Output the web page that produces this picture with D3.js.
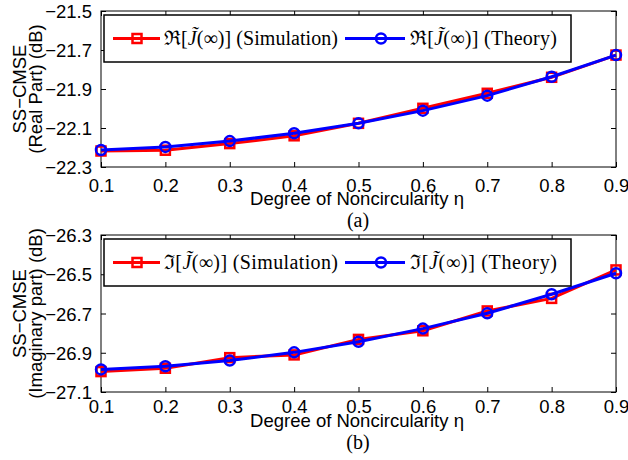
<!DOCTYPE html>
<html>
<head>
<meta charset="utf-8">
<script src="https://cdn.jsdelivr.net/npm/d3@7"></script>
<style>
body{margin:0;background:#fff;}
svg{display:block;}
.tick text{font-family:"Liberation Sans",Arial,sans-serif;font-size:18.5px;fill:#000;}
.lab{font-family:"Liberation Sans",Arial,sans-serif;font-size:18.5px;fill:#000;}
.ser{font-family:"Liberation Serif","Times New Roman",serif;font-size:20px;fill:#000;}
</style>
</head>
<body>
<svg id="chart" width="628" height="460"></svg>
<script>
var eta = [0.1,0.2,0.3,0.4,0.5,0.6,0.7,0.8,0.9];
var realSim = [-22.218,-22.214,-22.180,-22.140,-22.076,-21.999,-21.922,-21.840,-21.726];
var realThe = [-22.213,-22.197,-22.167,-22.127,-22.076,-22.011,-21.934,-21.837,-21.726];
var imagSim = [-26.996,-26.979,-26.925,-26.911,-26.832,-26.788,-26.687,-26.623,-26.478];
var imagThe = [-26.985,-26.969,-26.940,-26.898,-26.844,-26.777,-26.699,-26.602,-26.495];
var xTicks = [0.1,0.2,0.3,0.4,0.5,0.6,0.7,0.8,0.9];
var realTicks = [-21.5,-21.7,-21.9,-22.1,-22.3];
var imagTicks = [-26.3,-26.5,-26.7,-26.9,-27.1];

var svg = d3.select("#chart");
var L = 101, R = 616;

function panel(top, bottom, domain, ticks, sim, the, sym, ylab2, cap, tickY, labY, capY){
	var x = d3.scaleLinear().domain([0.1,0.9]).range([L,R]);
	var y = d3.scaleLinear().domain(domain).range([bottom,top]);
	var g = svg.append("g");
	var fmt = function(d){ return d3.format(".1f")(d).replace("-","\u2212"); };

	// ticks inward, mirrored on all sides
	g.append("g").attr("transform","translate(0,"+bottom+")")
		.call(d3.axisBottom(x).tickValues(xTicks).tickSize(-5).tickPadding(0).tickFormat(d3.format(".1f")))
		.call(a=>a.select(".domain").remove())
		.call(a=>a.selectAll("text").attr("y",null).attr("dy",null).attr("transform","translate(0,"+(tickY-bottom)+")"));
	g.append("g").attr("transform","translate(0,"+top+")")
		.call(d3.axisTop(x).tickValues(xTicks).tickSize(-5).tickFormat(""))
		.call(a=>a.select(".domain").remove());
	g.append("g").attr("transform","translate("+L+",0)")
		.call(d3.axisLeft(y).tickValues(ticks).tickSize(-5).tickPadding(9).tickFormat(fmt))
		.call(a=>a.select(".domain").remove())
		.call(a=>a.selectAll("text").attr("dy","0.36em"));
	g.append("g").attr("transform","translate("+R+",0)")
		.call(d3.axisRight(y).tickValues(ticks).tickSize(-5).tickFormat(""))
		.call(a=>a.select(".domain").remove());
	g.selectAll(".tick line").attr("stroke","#000");
	g.append("rect").attr("x",L).attr("y",top).attr("width",R-L).attr("height",bottom-top)
		.attr("fill","none").attr("stroke","#000").attr("stroke-width",1);

	var line = d3.line().x((d,i)=>x(eta[i])).y(d=>y(d));
	g.append("path").datum(sim).attr("d",line).attr("fill","none").attr("stroke","#f00").attr("stroke-width",3);
	g.selectAll(".sq").data(sim).enter().append("rect")
		.attr("x",(d,i)=>x(eta[i])-4.5).attr("y",d=>y(d)-4.5).attr("width",9).attr("height",9)
		.attr("fill","none").attr("stroke","#f00").attr("stroke-width",2.5);
	g.append("path").datum(the).attr("d",line).attr("fill","none").attr("stroke","#00f").attr("stroke-width",3);
	g.selectAll(".ci").data(the).enter().append("circle")
		.attr("cx",(d,i)=>x(eta[i])).attr("cy",d=>y(d)).attr("r",5)
		.attr("fill","none").attr("stroke","#00f").attr("stroke-width",2.5);

	// legend
	var ly = top+4, lh = 47;
	g.append("rect").attr("x",104).attr("y",ly).attr("width",467).attr("height",lh)
		.attr("fill","#fff").attr("stroke","#000").attr("stroke-width",1.5);
	var cy = ly+lh/2;
	g.append("line").attr("x1",113).attr("x2",160).attr("y1",cy).attr("y2",cy).attr("stroke","#f00").attr("stroke-width",3);
	g.append("rect").attr("x",132.5).attr("y",cy-4.5).attr("width",9).attr("height",9)
		.attr("fill","none").attr("stroke","#f00").attr("stroke-width",2.5);
	g.append("line").attr("x1",345).attr("x2",405).attr("y1",cy).attr("y2",cy).attr("stroke","#00f").attr("stroke-width",3);
	g.append("circle").attr("cx",381).attr("cy",cy).attr("r",5)
		.attr("fill","none").attr("stroke","#00f").attr("stroke-width",2.5);
	[["Simulation",164,174],["Theory",410,147]].forEach(function(e){
		var t = g.append("text").attr("class","ser").attr("x",e[1]).attr("y",cy+6)
			.attr("textLength",e[2]).attr("lengthAdjust","spacing");
		t.append("tspan").text(sym+"[");
		t.append("tspan").attr("font-style","italic").text("J\u0303");
		t.append("tspan").text("(\u221E)] ("+e[0]+")");
	});

	// labels
	var my = (top+bottom)/2;
	g.append("text").attr("class","lab").attr("text-anchor","middle")
		.attr("transform","translate(26,"+my+") rotate(-90)").text("SS\u2212CMSE");
	g.append("text").attr("class","lab").attr("text-anchor","middle")
		.attr("transform","translate(42,"+my+") rotate(-90)").text(ylab2);
	g.append("text").attr("class","lab").attr("text-anchor","middle").attr("x",357).attr("y",labY)
		.text("Degree of Noncircularity \u03B7");
	g.append("text").attr("class","ser").attr("text-anchor","middle").attr("x",358).attr("y",capY).text(cap);
}

panel(11,167,[-22.3,-21.5],realTicks,realSim,realThe,"\u211C","(Real Part) (dB)","(a)",192,205,227);
panel(235,392,[-27.1,-26.3],imagTicks,imagSim,imagThe,"\u2111","(Imaginary part) (dB)","(b)",413,427,449);
</script>
</body>
</html>
